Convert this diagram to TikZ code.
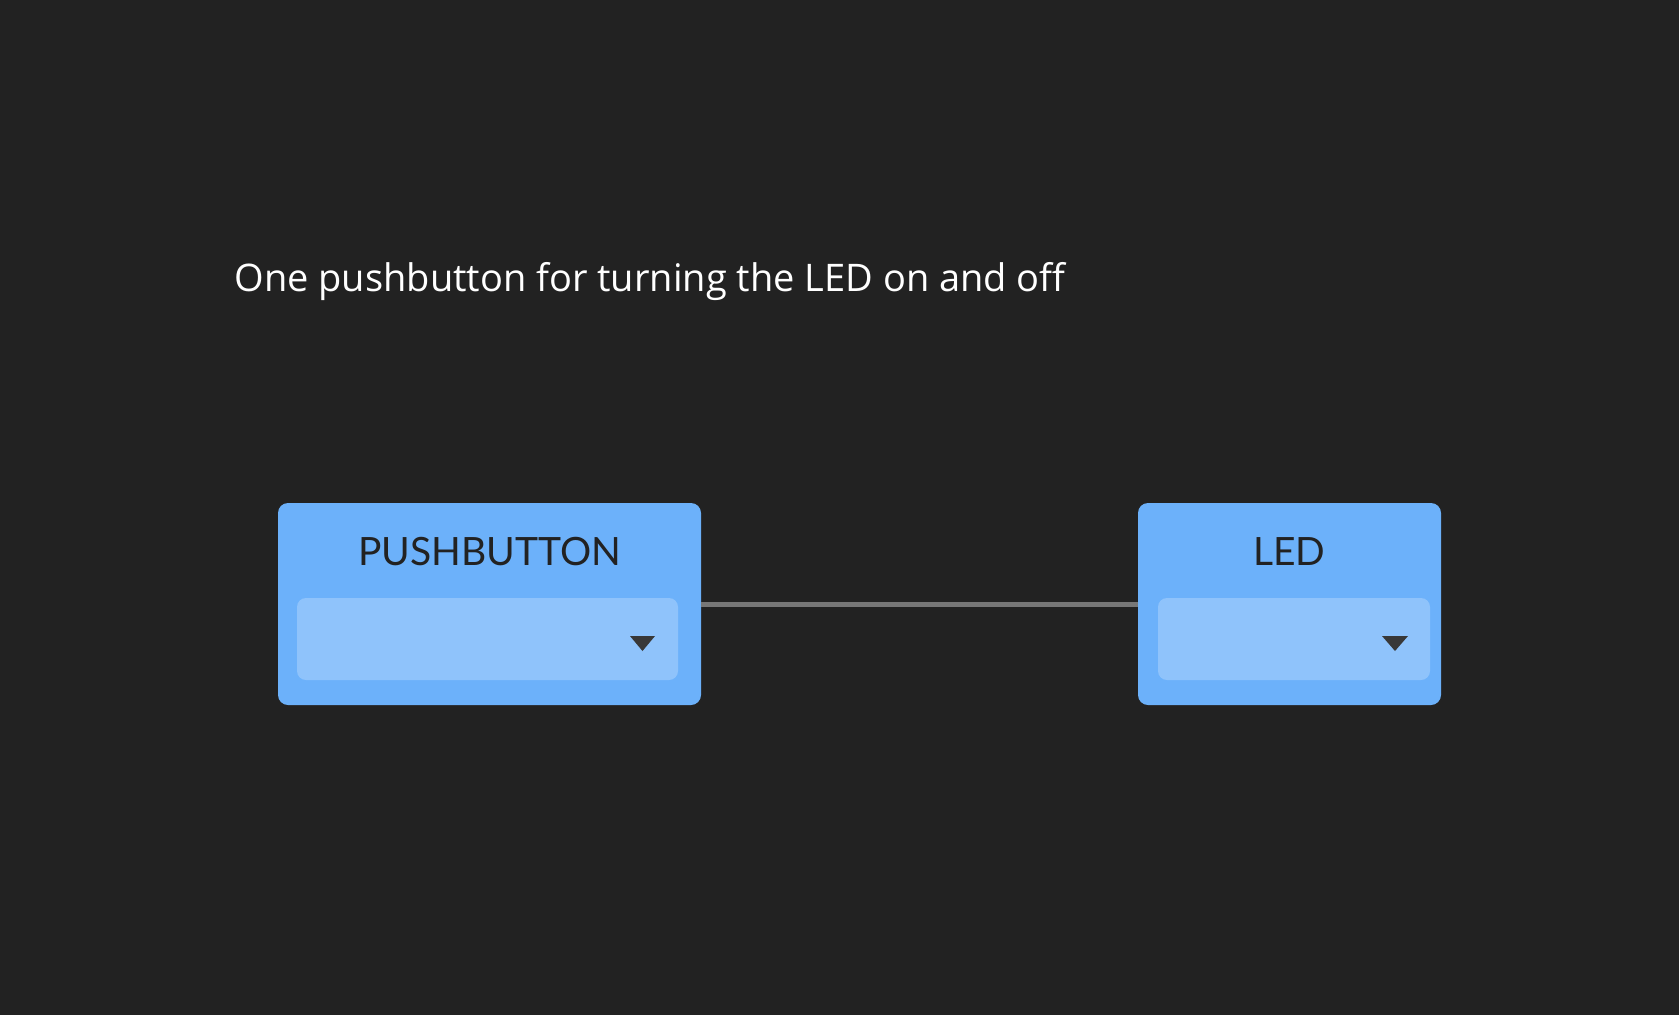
\documentclass[tikz,border=0pt]{standalone}
\usepackage{fontspec}
\setmainfont{Open Sans}
\newfontfamily\boxfont{Lato}
\usetikzlibrary{positioning}
\definecolor{bgcol}{HTML}{222222}
\definecolor{blockcol}{HTML}{6CB1FA}
\definecolor{fieldcol}{HTML}{8FC3FB}
\definecolor{wirecol}{HTML}{777777}
\tikzset{
  block/.style={fill=blockcol, rounded corners=10pt, minimum height=202pt, inner sep=0pt},
  field/.style={fill=fieldcol, rounded corners=9pt, minimum height=82pt, inner sep=0pt},
  blocklabel/.style={text=bgcol, font=\boxfont\fontsize{39}{44}\selectfont},
  caret/.style={fill=bgcol!90!white},
  wire/.style={draw=wirecol, line width=5pt}
}
\begin{document}
\begin{tikzpicture}[x=1pt, y=-1pt]
  \fill[bgcol] (0,0) rectangle (1679,1015);
  \useasboundingbox (0,0) rectangle (1679,1015);

  \node[anchor=west, text=white, font=\fontsize{38}{44}\selectfont] (title) at (231,282) {One pushbutton for turning the LED on and off};

  % blocks
  \node[block, minimum width=423pt] (push) at (489.5,604) {};
  \node[block, minimum width=303pt] (led) at (1289.5,604) {};
  \node[blocklabel] (pushlabel) at (489.5,552) {PUSHBUTTON};
  \node[blocklabel] (ledlabel) at (1289.5,552) {LED};

  % dropdown fields
  \node[field, minimum width=381pt] (pushfield) at (487.5,639) {};
  \node[field, minimum width=272pt] (ledfield) at (1294,639) {};
  \fill[caret] (630,636) -- (655,636) -- (642.5,651) -- cycle;
  \fill[caret] (1382,636) -- (1408,636) -- (1395,651) -- cycle;

  \draw[wire] (push.east) -- (led.west);
\end{tikzpicture}
\end{document}
